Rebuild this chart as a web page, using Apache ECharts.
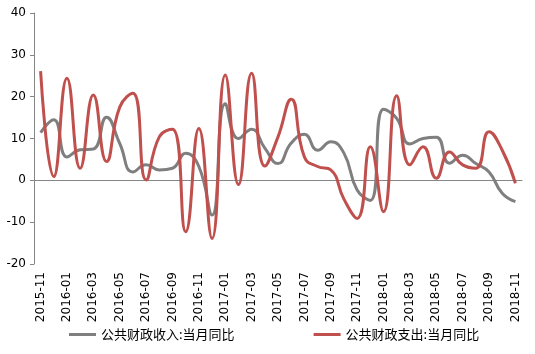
<!DOCTYPE html>
<html lang="zh">
<head>
    <meta charset="UTF-8">
    <title>公共财政收支当月同比</title>
    <script src="https://cdn.jsdelivr.net/npm/echarts@6/dist/echarts.min.js"></script>
    <style>
        html, body { margin: 0; padding: 0; background: #fff; }
        #chart { width: 535px; height: 354px; }
    </style>
</head>
<body>
    <div id="chart"></div>
    <script>
        // 月份
        var months = [
            '2015-11', '2015-12', '2016-01', '2016-02', '2016-03', '2016-04', '2016-05', '2016-06',
            '2016-07', '2016-08', '2016-09', '2016-10', '2016-11', '2016-12', '2017-01', '2017-02',
            '2017-03', '2017-04', '2017-05', '2017-06', '2017-07', '2017-08', '2017-09', '2017-10',
            '2017-11', '2017-12', '2018-01', '2018-02', '2018-03', '2018-04', '2018-05', '2018-06',
            '2018-07', '2018-08', '2018-09', '2018-10', '2018-11'
        ];
        // 公共财政收入:当月同比
        var revenue = [
            11.4, 14.5, 5.6, 7.3, 7.5, 15.1, 8.8, 2.0, 3.7, 2.5, 2.9, 6.5, 3.3,
            -8.3, 18.3, 10.0, 12.2, 7.7, 4.0, 8.9, 11.0, 7.2, 9.2, 6.5, -2.3, -4.8,
            17.0, 14.8, 8.7, 10.0, 10.3, 4.1, 6.0, 4.0, 2.0, -3.1, -5.1
        ];
        // 公共财政支出:当月同比
        var expenditure = [
            26.1, 0.9, 24.4, 2.9, 20.4, 4.5, 17.5, 20.8, 0.1, 10.4, 12.2, -12.3, 12.4,
            -13.9, 25.2, -1.0, 25.6, 3.4, 10.4, 19.4, 5.6, 3.3, 2.5, -4.5, -9.1, 8.0,
            -7.5, 20.2, 3.7, 8.0, 0.5, 6.8, 3.7, 2.9, 11.6, 7.2, -0.7
        ];

        var chart = echarts.init(document.getElementById('chart'));

        var option = {
            animation: false,
            textStyle: { fontFamily: 'DejaVu Sans' },
            grid: { left: 34, right: 13, top: 13, bottom: 90 },
            legend: {
                bottom: 8,
                left: 64,
                itemGap: 79,
                itemWidth: 27,
                itemHeight: 3,
                icon: 'rect',
                textStyle: { fontFamily: 'Noto Sans CJK SC', fontSize: 13, color: '#000' },
                data: ['公共财政收入:当月同比', '公共财政支出:当月同比']
            },
            xAxis: [
                {
                    type: 'category',
                    data: months,
                    boundaryGap: true,
                    axisLine: { show: false, onZero: false },
                    axisTick: { show: false },
                    axisLabel: { interval: 1, rotate: 90, margin: 8, fontSize: 12, color: '#000' }
                },
                {
                    type: 'category',
                    data: months,
                    boundaryGap: true,
                    position: 'bottom',
                    axisLine: { onZero: true, lineStyle: { color: '#868686', width: 1 } },
                    axisTick: { interval: 1, length: 4, lineStyle: { color: '#868686' } },
                    axisLabel: { show: false }
                }
            ],
            yAxis: {
                type: 'value',
                min: -20,
                max: 40,
                interval: 10,
                axisLine: { show: true, lineStyle: { color: '#868686' } },
                axisTick: { show: true, length: 4, lineStyle: { color: '#868686' } },
                axisLabel: { margin: 8, fontSize: 12, color: '#000' },
                splitLine: { show: false }
            },
            series: [
                {
                    name: '公共财政收入:当月同比',
                    type: 'line',
                    data: revenue,
                    smooth: 0.5,
                    showSymbol: false,
                    symbol: 'none',
                    color: '#7f7f7f',
                    lineStyle: { width: 3, color: '#7f7f7f' }
                },
                {
                    name: '公共财政支出:当月同比',
                    type: 'line',
                    data: expenditure,
                    smooth: 0.5,
                    showSymbol: false,
                    symbol: 'none',
                    color: '#c0504d',
                    lineStyle: { width: 3, color: '#c0504d' }
                }
            ]
        };

        chart.setOption(option);
    </script>
</body>
</html>
